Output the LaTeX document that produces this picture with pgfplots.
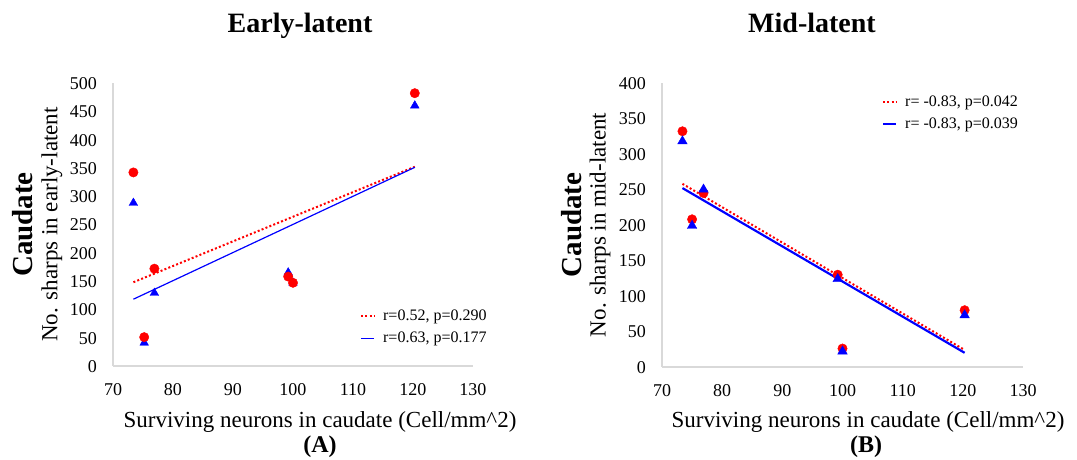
\documentclass[border=0pt]{standalone}
\usepackage{fontspec}
\setmainfont{Liberation Serif}
\usepackage{pgfplots}
\pgfplotsset{compat=1.18}
\definecolor{axgray}{RGB}{217,217,217}
\definecolor{myred}{RGB}{255,0,0}
\definecolor{myblue}{RGB}{0,0,255}
\pgfplotsset{
  panel/.style={
    scale only axis,
    axis x line=bottom, axis y line=left,
    axis line style={-, draw=axgray, line width=1.3pt},
    major tick length=0pt,
    tick style={draw=none},
    xmin=70, xmax=130, xtick={70,80,...,130},
    /pgf/number format/assume math mode=true,
    ticklabel style={font=\fontsize{18}{20}\selectfont, inner sep=0pt},
    xticklabel style={anchor=base, yshift=-30pt},
    yticklabel style={anchor=base east, xshift=-16pt, yshift=-6.5pt},
    clip=false,
    legend cell align=left,
    legend image code/.code={\draw[##1] (0pt,0pt) -- (13pt,0pt);},
    legend style={draw=none, fill=none, inner sep=0pt, row sep=6pt,
      font=\fontsize{16}{18}\selectfont,
      /tikz/every odd column/.append style={column sep=6pt}},
  },
  redfit/.style={myred, line width=2pt, dash pattern=on 2pt off 2.2pt},
}
\begin{document}
\begin{tikzpicture}
\useasboundingbox (0,0) rectangle (1077pt,460pt);
% ---------------- Panel A ----------------
\begin{axis}[panel,
  at={(113pt,94pt)}, anchor=south west,
  width=360pt, height=283pt,
  ymin=0, ymax=500, ytick={0,50,...,500},
  legend style={at={(0.686,0.137)}, anchor=west},
]
\addplot[redfit, forget plot] coordinates {(73.4,148) (120.3,352)};
\addplot[myblue, line width=1.2pt, forget plot] coordinates {(73.4,118) (120.3,351)};
\addplot[only marks, mark=triangle*, mark size=5pt, color=myblue, forget plot]
  coordinates {(73.4,288) (75.2,41) (76.9,129) (99.2,165) (100,147) (120.3,460)};
\addplot[only marks, mark=*, mark size=4.7pt, color=myred, forget plot]
  coordinates {(73.4,342) (75.2,51) (76.9,172) (99.2,158) (100,147) (120.3,482)};
\addlegendimage{redfit}
\addlegendentry{r=0.52, p=0.290}
\addlegendimage{myblue, line width=1.4pt}
\addlegendentry{r=0.63, p=0.177}
\node[rotate=90, font=\fontsize{23}{26}\selectfont] at ([xshift=-61pt]rel axis cs:0,0.5) {No. sharps in early-latent};
\node[rotate=90, font=\fontsize{29}{32}\selectfont\bfseries] at ([xshift=-90pt]rel axis cs:0,0.5) {Caudate};
\end{axis}
% ---------------- Panel B ----------------
\begin{axis}[panel,
  at={(662pt,93pt)}, anchor=south west,
  width=361pt, height=284pt,
  ymin=0, ymax=400, ytick={0,50,...,400},
  legend style={at={(0.609,0.895)}, anchor=west},
]
\addplot[redfit, forget plot] coordinates {(73.4,258) (120.3,24)};
\addplot[myblue, line width=2.2pt, forget plot] coordinates {(73.4,252) (120.3,20)};
\addplot[only marks, mark=*, mark size=4.7pt, color=myred, forget plot]
  coordinates {(73.4,332) (75.0,208) (76.9,245) (99.2,130) (100,26) (120.3,80)};
\addplot[only marks, mark=triangle*, mark size=5.5pt, color=myblue, forget plot]
  coordinates {(73.4,318) (75.0,199) (76.9,250) (99.2,124) (100,22) (120.3,73)};
\addlegendimage{redfit}
\addlegendentry{r= -0.83, p=0.042}
\addlegendimage{myblue, line width=2.2pt}
\addlegendentry{r= -0.83, p=0.039}
\node[rotate=90, font=\fontsize{23}{26}\selectfont] at ([xshift=-62pt]rel axis cs:0,0.5) {No. sharps in mid-latent};
\node[rotate=90, font=\fontsize{29}{32}\selectfont\bfseries] at ([xshift=-90pt]rel axis cs:0,0.5) {Caudate};
\end{axis}
% ---------------- titles and captions ----------------
\node[anchor=base, font=\fontsize{28}{30}\selectfont\bfseries] at (300pt,427pt) {Early-latent};
\node[anchor=base, font=\fontsize{28}{30}\selectfont\bfseries] at (812pt,427pt) {Mid-latent};
\node[anchor=base, font=\fontsize{23}{26}\selectfont] at (320pt,32pt) {Surviving neurons in caudate (Cell/mm\textasciicircum 2)};
\node[anchor=base, font=\fontsize{23}{26}\selectfont] at (868pt,32pt) {Surviving neurons in caudate (Cell/mm\textasciicircum 2)};
\node[anchor=base, font=\fontsize{24}{26}\selectfont\bfseries] at (320pt,7pt) {(A)};
\node[anchor=base, font=\fontsize{24}{26}\selectfont\bfseries] at (866pt,7pt) {(B)};
\end{tikzpicture}
\end{document}
